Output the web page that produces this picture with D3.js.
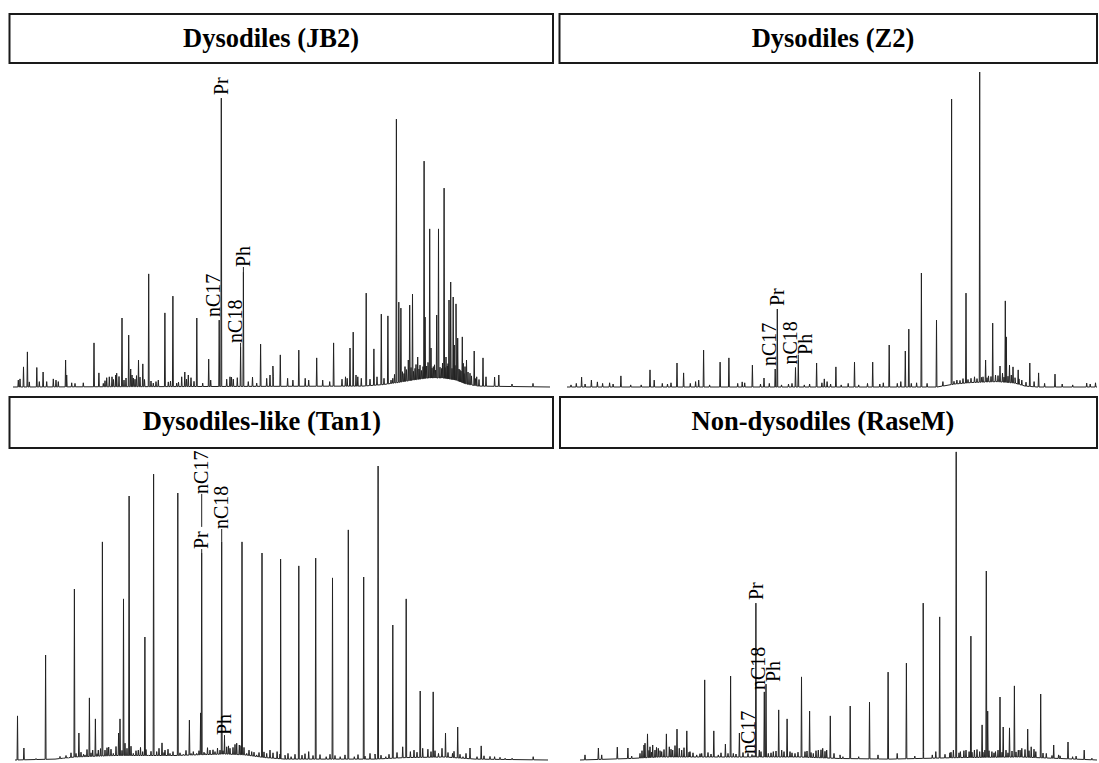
<!DOCTYPE html>
<html>
<head>
<meta charset="utf-8">
<script src="https://cdn.jsdelivr.net/npm/d3@7"></script>
<style>
  body { margin: 0; background: #fff; }
  svg { display: block; }
</style>
</head>
<body>
<svg id="chart" width="1099" height="763"></svg>
<script>
// =====================
// Data: retention time (min) and abundance (% of row scale)
// =====================
const titles = ['Dysodiles (JB2)', 'Dysodiles (Z2)', 'Dysodiles-like (Tan1)', 'Non-dysodiles (RaseM)'];
const runStart = 4;
const runEnds = [57.7, 57, 57.3, 55.7];

// --- JB2
const peaksJB2 = [[5.05,6.7],[5.44,11.7],[6.38,6.5],[7.01,5],[9.26,9],[12.1,14.7],[12.59,4.7],[14.27,4],[14.9,23],[15.57,17.3],
  [16.55,9],[16.98,7.7],[17.57,37.7],[19.19,24.7],[19.99,30.3],[21.18,5],[22.38,23],[23.57,9.3],[24.62,22.3],[24.83,96.3],
  [25.85,3.3],[26.76,13.3],[27.04,38.3],[27.95,3.3],[28.76,14.3],[29.99,7],[30.73,10.7],[32.58,12.3],[34.37,9.7],[36.06,14.7],
  [37.7,13],[38.02,18.3],[39.32,31.3],[40.09,12.7],[40.83,24.3],[41.49,23.7],[42.34,89.3],[42.58,28.3],[42.79,26.3],[43.67,27.3],
  [43.95,31],[44.47,10],[45.11,75.3],[45.21,23.3],[45.67,52.7],[45.8,13],[46.37,24],[46.55,52.7],[47.11,66.3],[47.3,10],
  [47.6,29],[47.77,35],[48.02,30],[48.13,14],[48.3,27.7],[48.47,16.3],[48.93,16.7],[49.2,6.8],[49.35,9],[50.12,12],
  [51,9.7],[51.3,3.4],[52.16,3.3],[52.58,4]];
const noiseJB2 = [[4.53,2.3],[4.7,2.7],[5.63,1.7],[6.63,1.8],[7.37,1.8],[8.03,2.7],[8.3,2.3],[8.53,1.8],[9.37,4],[9.87,1.4],
  [10.2,1.2],[11.03,1.4],[13.03,1.2],[13.2,2.1],[13.37,3.1],[13.63,3.4],[13.9,3.4],[14.05,2.5],[14.37,4.6],[14.6,3.5],[15.1,2.3],
  [15.3,3],[15.77,6],[15.9,4],[16.03,3],[16.2,2.6],[16.35,3.8],[16.7,3.3],[17.15,2.5],[17.8,2],[18.03,1.3],[18.3,1.8],[18.53,2.3],
  [19.53,1.7],[19.75,2],[20.37,1.3],[20.55,1.6],[20.87,3.4],[21.35,2.6],[21.53,4],[21.8,3.1],[22.1,1.9],[22.97,1.3],[23.77,2.3],
  [25.37,2.6],[25.7,3.4],[26.03,2.6],[26.43,3.1],[27.53,1.8],[28.37,1.3],[29.37,2.9],[29.7,4],[30.03,3.4],[31.46,2.9],[31.99,2.3],
  [33.22,2.9],[33.57,2.3],[34.97,2.3],[35.67,1.8],[36.9,2.6],[37.25,3.4],[37.42,2.9],[38.3,4],[38.48,3.4],[38.83,2.9],[39.7,2.6],
  [40.4,3.4],[41.1,2.9],[41.8,2.3],[41.98,2.9],[42.15,4.2],[42.95,5.1],[43.1,4.5],[43.2,6.8],[43.35,5.8],[43.53,9],[43.8,6.5],
  [44.05,5.2],[44.2,6.2],[44.3,7.5],[44.6,6],[44.7,7.3],[44.85,5.5],[45.0,6.8],[45.37,7],[45.5,8.2],[45.9,6.3],[46.03,6.8],
  [46.15,7.4],[46.25,5.6],[46.7,6.6],[46.87,6.2],[46.95,8],[47.2,6.5],[47.43,7],[47.5,7.8],[47.9,6.2],[48.2,7.2],[48.6,6],
  [48.7,5.7],[48.8,5.3],[49.03,7.9],[49.1,4.5],[49.5,5],[49.7,4.6],[49.85,3.7],[50.25,2.8],[50.37,3.4],[50.6,2.5],[53.9,1],[56,1.2]];
const humpJB2 = [[4,0],[39,0.3],[41,0.8],[42.5,1.5],[44,2.3],[45.5,3],[47,3],[48.3,2.3],[49.3,1],[50.5,0.3],[57.7,0]];
const labelsJB2 = [['Pr',24.83,96.3,97.3,'c'],['nC17',24.62,22.3,23.3,'l'],['nC18',26.76,13.3,14.7,'l'],['Ph',27.04,38.3,40,'c']];

// --- Z2
const peaksZ2 = [[5.46,3.3],[6.44,2.3],[7.04,1.7],[9.39,3.7],[12.3,5.7],[12.72,2.3],[15,8],[15.66,4.7],[17.17,2.3],[17.66,12.3],
  [19.31,8.3],[20.19,9.7],[21.52,1.7],[22.54,7.3],[23.7,3],[24.82,6],[25.03,26],[26.85,6.5],[27.13,9],[28.96,8],[29.73,2.7],
  [30.89,6.7],[32.75,8.3],[34.57,8.3],[36.22,14],[37.83,12],[38.18,19.3],[39.44,38],[40.95,22.3],[42.46,96],[43.9,31.3],
  [45.27,105],[45.86,9],[46.57,21.3],[47.3,7],[47.83,28.7],[47.93,16.7],[48.25,7.3],[48.6,6.7],[49.12,5.7],[50.28,8],
  [51.16,4.7],[52.8,4.3],[55.97,1.3]];
const noiseZ2 = [[4.4,0.7],[4.93,1.2],[5.81,1],[7.56,1.2],[8.26,1.4],[8.61,1],[10.37,0.7],[11.42,0.7],[13.53,1.2],[14.05,1],
  [14.4,1.4],[16.33,1.2],[16.86,1.8],[18.26,0.7],[21.07,1.2],[21.77,1.4],[23.35,1],[24.23,1.2],[25.45,0.7],[26.15,1],[26.5,1.2],
  [27.73,0.7],[28.26,1],[29.49,1.4],[30.01,1.8],[30.36,1],[31.42,0.7],[32.12,1.2],[33.17,0.7],[34.05,1.2],[35.28,1],[35.63,1.4],
  [37.03,1.2],[37.38,1.8],[38.43,1.2],[38.96,1.4],[40.01,1.2],[41.59,1.8],[42.7,1.9],[42.99,2.3],[43.3,2.2],[43.6,2.8],[44.1,2.5],
  [44.4,2.9],[44.75,3.4],[45,2.8],[45.45,3.2],[45.6,3.4],[46,3.1],[46.15,3.7],[46.4,3.5],[46.85,4],[47.1,3.8],[47.55,4.6],
  [47.7,3.3],[48.1,3.6],[48.43,4],[48.8,3.1],[49.2,2.7],[49.48,2.3],[49.9,1.6],[50.71,1.8],[51.76,1.2],[53.52,1],[54.57,0.7],
  [56.32,1],[56.85,1.4]];
const humpZ2 = [[4,0],[41,0],[42.8,1],[44.5,1.5],[47,1.8],[48.8,1.3],[49.8,0.3],[51,0],[57,0]];
const labelsZ2 = [['Pr',25.03,26,27,'c'],['nC17',24.82,6,7,'l'],['nC18',26.85,6.5,7.5,'l'],['Ph',27.13,9,10.7,'r']];

// --- Tan1
const peaksTan1 = [[4.25,14.7],[4.89,4],[7.06,35],[9.94,57],[10.39,9],[11.44,20.7],[12.04,13.7],[12.74,72.7],[13.37,4.3],
  [14.36,9],[14.5,13.7],[14.85,53.7],[15.41,88],[16.99,41],[17.86,95.3],[18.7,5.7],[20.28,89],[21.44,13.3],[22.56,15.7],
  [22.67,69],[24.67,72.7],[24.95,7.3],[26.7,72.7],[28.7,69],[30.56,67],[32.38,64.7],[34.07,67.3],[35.75,60.7],[37.33,76.7],
  [38.87,61],[40.31,98],[41.78,45],[43.12,53.7],[44.52,23],[45.82,22.7],[47.05,9],[48.27,11],[49.5,4],[50.62,4.7]];
const noiseTan1 = [[6.1,0.5],[8.5,1.2],[8.83,0.6],[9.1,1.5],[9.33,0.6],[9.6,2.4],[10.1,2.2],[10.6,2.6],[10.85,1.9],[11,1.7],
  [11.2,3.5],[11.6,2.4],[11.77,3.3],[12.2,2.1],[12.33,3.3],[12.55,3.8],[13,3.3],[13.2,4.1],[13.6,3.6],[13.83,2.2],[14.1,4.5],
  [14.7,3.2],[15,5.6],[15.2,3.9],[15.6,4.6],[15.83,2.2],[16.1,3.1],[16.33,3.3],[16.55,4.2],[16.77,2.8],[17.1,3.5],[17.33,1.7],
  [17.6,2.9],[18.17,2.8],[18.4,3.9],[18.9,2.5],[19,3.3],[19.3,3.6],[19.5,2.2],[19.8,2.8],[20.5,2.4],[20.83,1.9],[21.1,3.2],
  [21.6,2.2],[21.83,2.8],[22.17,2.2],[22.4,3.1],[22.9,2.6],[23,2.2],[23.25,4.1],[23.5,3.3],[23.8,3.4],[24,2.8],[24.25,4],
  [24.5,3.3],[24.8,3.1],[25.17,4.4],[25.35,4.7],[25.5,3.9],[25.8,4.2],[26.0,5.2],[26.17,5.6],[26.43,5],[26.6,4.8],[26.9,4.2],
  [27.17,2.2],[27.4,3.3],[27.67,2.8],[27.9,2.6],[28.17,1.7],[28.4,2.5],[28.9,2.7],[29.17,2.2],[29.5,3.3],[29.8,2.4],[30.21,2.8],
  [30.5,2],[31,1.6],[31.3,2.2],[31.61,1.1],[32,1.9],[32.7,1.6],[33,2.1],[33.37,2.8],[33.8,1.5],[34.5,1.8],[35.12,1.1],[35.5,1.9],
  [36,1.5],[36.52,1.1],[37,1.7],[37.93,1.1],[38.3,1.8],[39,1.3],[39.5,2.2],[40,2],[40.6,1.6],[41.08,1.1],[41.4,1.9],[42.2,2.5],
  [42.77,4.4],[43.54,2.8],[43.9,3.3],[44.2,2.6],[44.77,3.9],[45.29,3.6],[45.6,2.8],[46,3.1],[46.35,2.2],[46.7,3.9],[47.3,2.5],
  [47.75,2.2],[47.9,2.9],[48.5,1.9],[48.8,1.1],[49.1,2.2],[50.2,1.1],[50.9,1.4],[51.5,1.2],[51.96,1.1],[52.5,0.9],[53.01,0.6],
  [53.71,0.6],[55.82,1.1]];
const humpTan1 = [[4,0],[8,0.3],[10,1],[14,1.5],[20,1.5],[25,2],[27,1.7],[29,0.8],[31,0.3],[40,0.3],[43,0.8],[47,1],[50,0.3],[57.3,0]];
const labelsTan1 = [['Pr',22.67,69,70.3,'c'],['nC17',22.67,77.7,88.7,'c'],['nC18',24.67,72.7,77,'c'],['Ph',24.95,7.3,8.3,'c']];

// --- RaseM
const peaksRaseM = [[4.5,1.7],[5.84,4],[7.73,4.3],[8.79,4],[10.4,5],[10.75,8.7],[12.64,8.7],[13.7,10.3],[14.68,9.7],[16.47,26.7],
  [17.38,9.7],[18.54,5.3],[19.06,28],[19.94,9],[21.4,1.5],[21.59,52.3],[22.43,22.7],[22.6,25.3],[23.87,16.7],[24.71,13.7],
  [26.15,27.7],[26.96,16.3],[29.03,14.7],[31.02,18],[32.95,19.3],[34.81,29.3],[36.64,32.3],[38.32,52.3],[39.97,47.7],
  [41.62,102.7],[43.09,41.3],[44.21,11.7],[44.63,63],[44.77,16.3],[46,21],[46.32,11],[46.95,10.7],[47.44,24.7],[48.77,10.3],
  [50.07,22],[51.37,5],[52.8,6],[54.42,3.3]];
const noiseRaseM = [[6.17,1.7],[9.17,1.3],[10,2.2],[10.2,3.1],[10.5,5.6],[10.9,3.2],[11,4.4],[11.15,2.6],[11.27,5],[11.5,3.3],
  [11.65,4.2],[11.83,3.9],[12,3.1],[12.17,2.8],[12.4,3.5],[12.93,4.4],[13.1,3.6],[13.27,3.3],[13.5,4.8],[13.93,3.9],[14.17,3.3],
  [14.4,4.1],[14.9,2.6],[15,2.8],[15.3,2.4],[15.67,1.7],[16,2.1],[16.17,2.2],[16.8,2.5],[17.1,2],[17.83,1.7],[18.1,2.4],[18.8,2.2],
  [19.33,2.2],[19.6,2],[20.3,2.5],[20.8,2.2],[21.2,1.8],[21.93,3.3],[22.1,2.8],[22.83,2.2],[23.1,2.4],[23.33,2.8],[23.6,3],
  [24.17,3.3],[24.4,2.8],[25,2.8],[25.2,2.4],[25.5,2.2],[25.8,2.6],[26.5,2.8],[26.7,3],[27.1,2.5],[27.33,2.2],[27.6,3.1],
  [27.83,3.3],[28.1,3.4],[28.27,3.9],[28.5,2.9],[28.67,3.3],[29.4,2.2],[30,1.7],[30.29,1.1],[31.87,1.1],[33.8,1.7],[35.72,2.2],
  [37.48,1.3],[38.36,2.8],[39.23,1.7],[39.58,2.8],[40.5,1.9],[40.99,2.4],[41.1,2.6],[41.34,3.3],[41.9,2.4],[42.04,2.8],[42.39,3.1],
  [42.6,3.3],[42.91,2.8],[43.2,2.6],[43.44,3.3],[43.7,3.5],[43.97,2.8],[44.3,2.6],[44.49,3.3],[44.9,3.1],[45.19,2.8],[45.4,2.4],
  [45.55,2.8],[45.8,3.3],[46.2,2.6],[46.6,3.3],[46.8,2.4],[47.2,3],[47.6,2.7],[47.83,3.3],[48,3.3],[48.18,3.9],[48.5,3.5],
  [48.9,3.1],[49.12,4.4],[49.4,3.6],[49.58,2.8],[50.3,2.3],[50.63,2.2],[51.2,1.5],[51.86,1.7],[52,1.4],[53.26,1.1],[53.61,1.3],
  [55.19,0.6]];
const humpRaseM = [[4,0],[9,0.5],[12,1],[20,1],[26,1],[30,0.5],[35,0.3],[42,0.8],[48,1],[52,0.5],[55.7,0]];
const labelsRaseM = [['Pr',21.59,52.3,53.3,'c'],['nC17',21.4,1.5,2,'l'],['nC18',22.43,22.7,23.3,'l'],['Ph',22.6,25.3,26,'r']];

// =====================
// Layout
// =====================
const yMax = 105,            // abundance at the top of each row
  peakHalfWidth = 0.045,     // half width of a spike, in minutes
  labelFont = '20px "Liberation Serif", "Times New Roman", serif',
  titleFont = 'bold 26.5px "Liberation Serif", "Times New Roman", serif',
  labelShift = { l: 1, c: 6.6, r: 13.5 };   // baseline offset of the rotated labels

const panels = [
  { peaks: peaksJB2, noise: noiseJB2, hump: humpJB2, labels: labelsJB2,
    box: [9.5, 14, 543.5, 49], titleX: 271, titleY: 47, xr: [13, 550], yr: [387, 72] },
  { peaks: peaksZ2, noise: noiseZ2, hump: humpZ2, labels: labelsZ2,
    box: [559.5, 14, 537.5, 49], titleX: 833, titleY: 47, xr: [567, 1097], yr: [387, 72] },
  { peaks: peaksTan1, noise: noiseTan1, hump: humpTan1, labels: labelsTan1,
    box: [9.5, 397, 543.5, 51], titleX: 262, titleY: 430, xr: [15, 548], yr: [760, 445] },
  { peaks: peaksRaseM, noise: noiseRaseM, hump: humpRaseM, labels: labelsRaseM,
    box: [560, 397, 537, 51], titleX: 823, titleY: 430, xr: [580, 1097], yr: [760, 445] }
];

const svg = d3.select('#chart');

panels.forEach((p, i) => {
  const g = svg.append('g');

  // title box
  g.append('rect')
    .attr('x', p.box[0]).attr('y', p.box[1])
    .attr('width', p.box[2]).attr('height', p.box[3])
    .attr('fill', 'none').attr('stroke', '#1a1a1a').attr('stroke-width', 2);
  g.append('text')
    .attr('x', p.titleX).attr('y', p.titleY)
    .attr('text-anchor', 'middle')
    .style('font', titleFont)
    .text(titles[i]);

  // scales
  const x = d3.scaleLinear([runStart, runEnds[i]], p.xr),
    y = d3.scaleLinear([0, yMax], p.yr),
    base = d3.scaleLinear(p.hump.map(d => d[0]), p.hump.map(d => d[1]));

  // trace: hump vertices + one narrow spike per peak
  const pts = p.hump.map(d => [d[0], d[1]]);
  p.peaks.concat(p.noise).forEach(([t, h]) => {
    const b = base(t);
    pts.push([t - peakHalfWidth, b], [t, h], [t + peakHalfWidth, b]);
  });
  pts.sort((a, b) => a[0] - b[0]);

  const line = d3.line().x(d => x(d[0])).y(d => y(d[1]));
  g.append('path')
    .attr('d', line(pts))
    .attr('fill', 'none')
    .attr('stroke', '#222')
    .attr('stroke-width', 1)
    .attr('stroke-linejoin', 'round');

  // peak labels (rotated, reading upward)
  p.labels.forEach(([name, t, from, at, align]) => {
    const px = x(t);
    if (at - from > 1) {
      g.append('line')
        .attr('x1', px).attr('x2', px)
        .attr('y1', y(from)).attr('y2', y(at))
        .attr('stroke', '#222').attr('stroke-width', 1);
    }
    g.append('text')
      .attr('transform', `translate(${px + labelShift[align]},${y(at)}) rotate(-90)`)
      .style('font', labelFont)
      .text(name);
  });
});
</script>
</body>
</html>
